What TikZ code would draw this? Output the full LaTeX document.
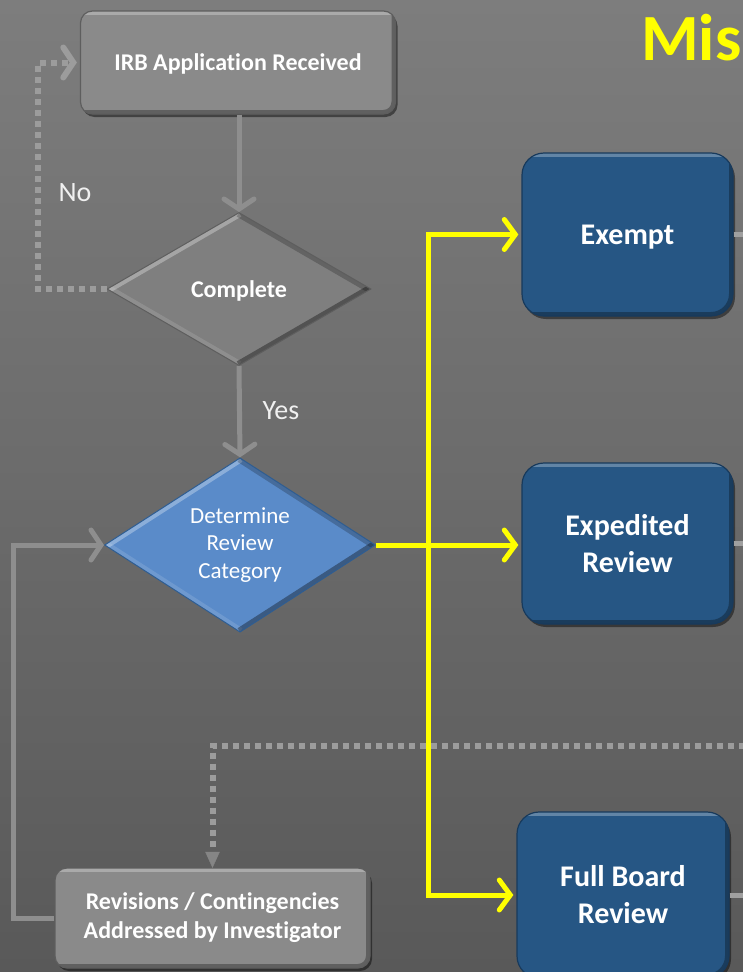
\documentclass[tikz,border=0pt]{standalone}
\usepackage{fontspec}
\setmainfont{Carlito}[Ligatures=NoCommon]
\usetikzlibrary{arrows.meta,shapes.geometric,shadows}
\definecolor{bgtop}{HTML}{7D7D7D}
\definecolor{bgbot}{HTML}{595959}
\definecolor{grayfill}{HTML}{8A8A8A}
\definecolor{grayedge}{HTML}{5E5E5E}
\definecolor{bluedark}{HTML}{265684}
\definecolor{blueedge}{HTML}{183A5C}
\definecolor{bluelight}{HTML}{5A8BC9}
\definecolor{bluelightedge}{HTML}{2F5D91}
\definecolor{conn}{HTML}{8E8E8E}
\definecolor{dotc}{HTML}{9C9C9C}
\definecolor{stubc}{HTML}{A0A0A0}
\definecolor{ylw}{HTML}{FFFF00}
\tikzset{
  bevelbox/.style={path picture={
      \draw[white,opacity=0.28,line width=7pt] (path picture bounding box.north west) -- (path picture bounding box.north east);
      \draw[black,opacity=0.30,line width=8pt] (path picture bounding box.south west) -- (path picture bounding box.south east) -- (path picture bounding box.north east);
    }},
  bevelgem/.style={path picture={
      \draw[white,opacity=0.30,line width=9pt] (path picture bounding box.west) -- (path picture bounding box.north);
      \draw[white,opacity=0.12,line width=9pt] (path picture bounding box.west) -- (path picture bounding box.south);
      \draw[black,opacity=0.22,line width=9pt] (path picture bounding box.north) -- (path picture bounding box.east);
      \draw[black,opacity=0.35,line width=9pt] (path picture bounding box.east) -- (path picture bounding box.south);
    }},
  graybox/.style={draw=grayedge, line width=1.2pt, fill=grayfill, rounded corners=12pt,
    text=white, font=\bfseries\fontsize{24}{29}\selectfont, align=center, inner sep=0pt,
    drop shadow={shadow xshift=2pt, shadow yshift=-3pt, opacity=0.45, fill=black}, bevelbox},
  bluebox/.style={draw=blueedge, line width=1.2pt, fill=bluedark, rounded corners=22pt,
    text=white, font=\bfseries\fontsize{30}{37}\selectfont, align=center, inner sep=0pt,
    minimum width=211pt, drop shadow={shadow xshift=2pt, shadow yshift=-3pt, opacity=0.45, fill=black}, bevelbox},
  graygem/.style={diamond, draw=grayedge, line width=1pt, fill=grayfill!92!black, inner sep=0pt,
    text=white, font=\bfseries\fontsize{24}{29}\selectfont, bevelgem},
  bluegem/.style={diamond, draw=bluelightedge, line width=1pt, fill=bluelight, inner sep=0pt,
    text=white, font=\fontsize{23}{27.5}\selectfont, align=center, bevelgem},
  gconn/.style={draw=conn, line width=5pt, line join=miter,
    -{Straight Barb[length=10pt,width=30pt,line cap=round]}},
  dconn/.style={draw=dotc, line width=6pt, dash pattern=on 6pt off 5pt},
  yconn/.style={draw=ylw, line width=5pt, line join=miter},
  stub/.style={draw=stubc, line width=5pt},
  lbl/.style={text=white!94!black, font=\fontsize{28}{32}\selectfont, inner sep=0pt}
}
\begin{document}
\begin{tikzpicture}[x=1pt,y=-1pt]
\useasboundingbox (0,0) rectangle (743,972);
\clip (0,0) rectangle (743,972);
\shade[top color=bgtop, bottom color=bgbot] (0,0) rectangle (743,972);

% title
\node[anchor=base west, text=ylw, font=\bfseries\fontsize{66}{70}\selectfont, inner sep=0pt] (title) at (641,60) {Mis};

% helper coordinates
\coordinate (noc) at (38,62.5);
\coordinate (loopc) at (13,545);
\coordinate (ybus) at (428,545);
\coordinate (dright) at (745,746);
\coordinate (edge) at (745,0);

% connectors drawn under nodes
\draw[dconn] (dright) -| (212.5,852);

% nodes
\node[graybox, text depth=0pt, minimum width=315pt, minimum height=103pt] (irb) at (238,62.5) {IRB Application Received};
\node[graygem, text depth=0pt, minimum width=264pt, minimum height=153pt] (complete) at (239,289) {Complete};
\node[bluegem, minimum width=271pt, minimum height=160pt] (determine) at (240,545) {Determine\\Review\\Category};
\node[bluebox, text depth=0pt, minimum height=163pt] (exempt) at (627.5,234.5) {Exempt};
\node[bluebox, minimum height=161pt] (expedited) at (627.5,543.5) {Expedited\\Review};
\node[bluebox, minimum width=212pt, minimum height=166pt] (full) at (623,895) {Full Board\\Review};
\node[graybox, minimum width=315pt, minimum height=100pt] (revisions) at (212.5,918) {Revisions / Contingencies\\Addressed by Investigator};

% labels
\node[lbl] (no) at (75,193) {No};
\node[lbl] (yes) at (281,411) {Yes};

% gray connectors
\draw[gconn] (irb.south -| complete.north) -- (complete.north);
\draw[gconn] (complete.south) -- (determine.north);
\draw[gconn] (revisions.west) -| (loopc) -- (determine.west);

% dotted connectors
\draw[dconn, -{Straight Barb[length=10pt,width=30pt,line cap=round]}, shorten >=3pt] (complete.west) -| (noc) -- (irb.west);
\draw[draw=dotc!85!black, fill=dotc!85!black] (205.5,852) -- (219.5,852) -- (revisions.north) -- cycle;

% yellow connectors
\draw[yconn, -{Straight Barb[length=11pt,width=30pt,line cap=round]}, shorten >=3pt] (determine.east) -- (determine.east -| expedited.west);
\draw[yconn, {Straight Barb[length=11pt,width=30pt,line cap=round]}-{Straight Barb[length=11pt,width=30pt,line cap=round]}, shorten <=3pt, shorten >=3pt]
  (exempt.west) -- (ybus |- exempt.west) -- (ybus |- full.west) -- (full.west);

% stubs to the right edge
\draw[stub] (exempt.east) -- (exempt.east -| edge);
\draw[stub] (expedited.east) -- (expedited.east -| edge);
\draw[stub] (full.east) -- (full.east -| edge);
\end{tikzpicture}
\end{document}
